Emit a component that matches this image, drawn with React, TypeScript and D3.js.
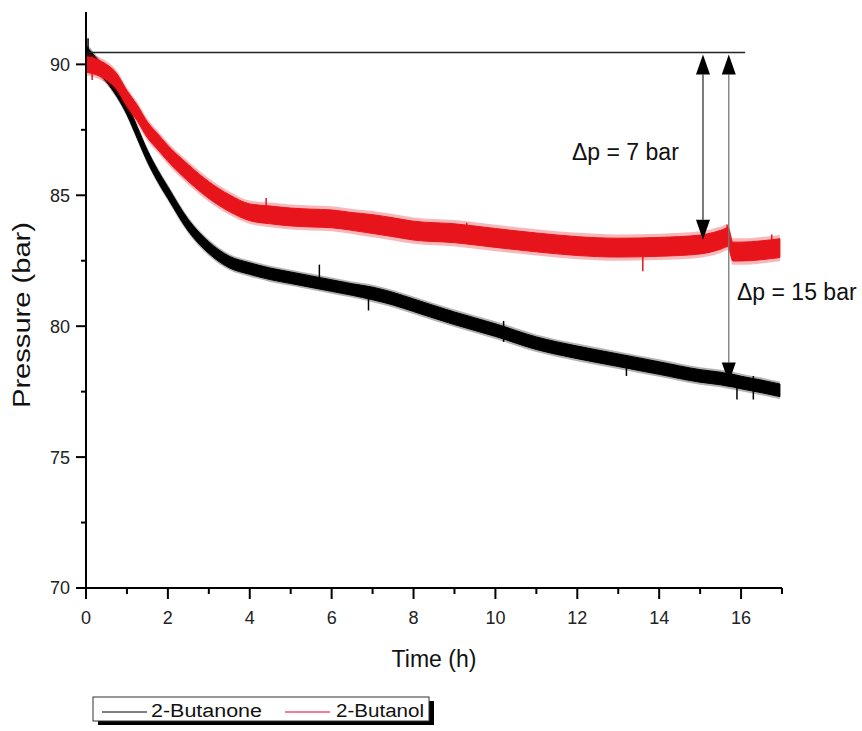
import React from "react";
import * as d3 from "d3";

// ---- data ----
const timeH = [0, 0.25, 0.5, 0.75, 1, 1.25, 1.5, 1.75, 2, 2.5, 3, 3.5, 4, 4.5, 5, 5.5, 6, 6.5, 7, 7.5, 8, 9, 10, 11, 12, 13, 14, 15, 15.5, 15.68, 15.8, 16, 16.5, 16.95];
const butanone = [90.4, 90.0, 89.55, 89.0, 88.3, 87.4, 86.5, 85.75, 85.1, 83.85, 83.0, 82.45, 82.2, 82.0, 81.85, 81.7, 81.55, 81.4, 81.25, 81.05, 80.8, 80.3, 79.85, 79.35, 79.0, 78.7, 78.4, 78.1, 78.0, 77.95, 77.92, 77.85, 77.7, 77.55];
const butanol = [90.0, 89.9, 89.7, 89.35, 88.7, 88.15, 87.5, 87.05, 86.6, 85.85, 85.2, 84.7, 84.35, 84.25, 84.17, 84.13, 84.1, 84.0, 83.9, 83.78, 83.65, 83.55, 83.37, 83.2, 83.06, 83.0, 83.03, 83.12, 83.3, 83.4, 82.85, 82.85, 82.9, 82.98];
const butanoneNoise = [0.3, 0.25, 0.22, 0.22, 0.22, 0.22, 0.22, 0.22, 0.22, 0.22, 0.22, 0.22, 0.22, 0.22, 0.22, 0.22, 0.22, 0.22, 0.24, 0.24, 0.24, 0.24, 0.24, 0.24, 0.24, 0.24, 0.24, 0.24, 0.24, 0.24, 0.24, 0.24, 0.24, 0.24];
const butanolNoise = [0.3, 0.3, 0.3, 0.3, 0.3, 0.3, 0.3, 0.3, 0.3, 0.32, 0.32, 0.32, 0.32, 0.34, 0.34, 0.34, 0.34, 0.34, 0.36, 0.36, 0.36, 0.36, 0.36, 0.36, 0.36, 0.36, 0.36, 0.36, 0.36, 0.36, 0.36, 0.36, 0.36, 0.36];
const butanoneSpikes: [number, number, number][] = [[0.05, 89.9, 91.0], [5.7, 81.7, 82.35], [6.9, 80.6, 81.2], [10.2, 79.4, 80.2], [13.2, 78.1, 78.9], [15.9, 77.2, 77.8], [16.3, 77.2, 78.1]];
const butanolSpikes: [number, number, number][] = [[0.15, 89.4, 90.3], [4.4, 84.2, 84.9], [13.6, 82.1, 83.0], [15.66, 83.3, 83.87], [16.75, 82.9, 83.5], [9.3, 83.2, 83.95]];
const refLevel = 90.45;
const refEndTime = 16.1;
const arrows = [
  { t: 15.07, to: 83.3, label: "Δp = 7 bar" },
  { t: 15.7, to: 77.85, label: "Δp = 15 bar" },
];
const xTicks = [0, 2, 4, 6, 8, 10, 12, 14, 16];
const xMinor = [1, 3, 5, 7, 9, 11, 13, 15, 17];
const yTicks = [70, 75, 80, 85, 90];
const yMinor = [72.5, 77.5, 82.5, 87.5];
const seriesNames = ["2-Butanone", "2-Butanol"];
const seriesColors = ["#000000", "#e8141c"];

export default function App() {
  const x = d3.scaleLinear().domain([0, 17]).range([86, 782]);
  const y = d3.scaleLinear().domain([70, 92]).range([588, 12]);
  const font = "Arial, 'Liberation Sans', sans-serif";

  const band = (mid: number[], noise: number[], k: number) =>
    d3
      .area<number>()
      .x((_, i) => x(timeH[i]))
      .y0((d, i) => y(d - noise[i] * k))
      .y1((d, i) => y(d + noise[i] * k))
      .curve(d3.curveMonotoneX)(mid) || "";

  const series = [
    { mid: butanone, noise: butanoneNoise, spikes: butanoneSpikes },
    { mid: butanol, noise: butanolNoise, spikes: butanolSpikes },
  ];

  return (
    <svg width={862} height={731} style={{ position: "absolute", left: 0, top: 0, background: "#fff" }} fontFamily={font}>
      {/* curves */}
      {series.map((s, k) => (
        <g key={k}>
          <path d={band(s.mid, s.noise, 1.4)} fill={seriesColors[k]} opacity={0.3} />
          <path d={band(s.mid, s.noise, 1)} fill={seriesColors[k]} stroke={seriesColors[k]} strokeWidth={1} />
          {s.spikes.map((sp, j) => (
            <line key={j} x1={x(sp[0])} x2={x(sp[0])} y1={y(sp[1])} y2={y(sp[2])} stroke={seriesColors[k]} strokeWidth={1.5} />
          ))}
        </g>
      ))}

      {/* reference line */}
      <line x1={x(0)} x2={x(refEndTime)} y1={y(refLevel)} y2={y(refLevel)} stroke="#222" strokeWidth={1.5} />

      {/* arrows */}
      {arrows.map((a, i) => {
        const ax = x(a.t);
        const top = y(refLevel) + 2;
        const bot = y(a.to);
        const hw = 7;
        const hh = 20;
        const col = i === 0 ? "#333" : "#777";
        return (
          <g key={i}>
            <line x1={ax} x2={ax} y1={top + hh} y2={bot - hh} stroke={col} strokeWidth={1.3} />
            <path d={`M${ax},${top} L${ax - hw},${top + hh} L${ax + hw},${top + hh} Z`} fill="#000" />
            <path d={`M${ax},${bot} L${ax - hw},${bot - hh} L${ax + hw},${bot - hh} Z`} fill="#000" />
          </g>
        );
      })}
      <text x={572} y={160} fontSize={23} fill="#111">{arrows[0].label}</text>
      <text x={737} y={300} fontSize={23} fill="#111">{arrows[1].label}</text>

      {/* axes */}
      <line x1={x(0)} x2={x(0)} y1={y(70)} y2={12} stroke="#000" strokeWidth={2} />
      <line x1={x(0) - 1} x2={x(17)} y1={y(70)} y2={y(70)} stroke="#000" strokeWidth={2} />
      {yTicks.map((v) => (
        <g key={v}>
          <line x1={x(0) - 10} x2={x(0)} y1={y(v)} y2={y(v)} stroke="#000" strokeWidth={2} />
          <text x={x(0) - 16} y={y(v)} dy="0.36em" textAnchor="end" fontSize={18} fill="#222">{v}</text>
        </g>
      ))}
      {yMinor.map((v) => (
        <line key={v} x1={x(0) - 5} x2={x(0)} y1={y(v)} y2={y(v)} stroke="#000" strokeWidth={2} />
      ))}
      {xTicks.map((t) => (
        <g key={t}>
          <line x1={x(t)} x2={x(t)} y1={y(70)} y2={y(70) + 11} stroke="#000" strokeWidth={2} />
          <text x={x(t)} y={624} textAnchor="middle" fontSize={18} fill="#222">{t}</text>
        </g>
      ))}
      {xMinor.map((t) => (
        <line key={t} x1={x(t)} x2={x(t)} y1={y(70)} y2={y(70) + 6} stroke="#000" strokeWidth={2} />
      ))}

      <text x={434} y={667} textAnchor="middle" fontSize={23} fill="#111">Time (h)</text>
      <text
        transform={`translate(30,315) rotate(-90)`}
        textAnchor="middle"
        fontSize={23}
        fill="#111"
        textLength={186}
        lengthAdjust="spacingAndGlyphs"
      >
        Pressure (bar)
      </text>

      {/* legend */}
      <rect x={98} y={701} width={336} height={24} fill="#000" />
      <rect x={93} y={697} width={336} height={24} fill="#fff" stroke="#333" strokeWidth={1} />
      <line x1={102} x2={147} y1={712} y2={712} stroke={seriesColors[0]} strokeWidth={1} />
      <text x={151} y={717} fontSize={18} fill="#111" textLength={111} lengthAdjust="spacingAndGlyphs">{seriesNames[0]}</text>
      <line x1={285} x2={330} y1={712} y2={712} stroke="#f0506a" strokeWidth={1.5} />
      <text x={336} y={717} fontSize={18} fill="#111" textLength={88} lengthAdjust="spacingAndGlyphs">{seriesNames[1]}</text>
    </svg>
  );
}
